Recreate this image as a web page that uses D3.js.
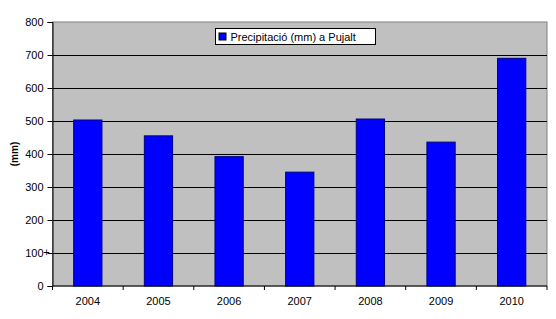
<!DOCTYPE html>
<html>
<head>
<meta charset="utf-8">
<script src="https://cdn.jsdelivr.net/npm/d3@7"></script>
<style>
  body { margin: 0; background: #fff; }
  text { font-family: Arial, "Liberation Sans", sans-serif; }
</style>
</head>
<body>
<svg id="chart" width="556" height="319"></svg>
<script>
// Data
const years = ["2004", "2005", "2006", "2007", "2008", "2009", "2010"];
const rainfall = [503, 455, 392, 345, 506, 436, 690];
const yTicks = [0, 100, 200, 300, 400, 500, 600, 700, 800];
const seriesName = "Precipitació (mm) a Pujalt";

const svg = d3.select("#chart");
const margin = { left: 52.5, right: 9, top: 22, bottom: 33 };
const width = +svg.attr("width");
const height = +svg.attr("height");

const x = d3.scaleBand()
    .domain(years)
    .range([margin.left, width - margin.right])
    .paddingInner(0.6)
    .paddingOuter(0.3);

const y = d3.scaleLinear()
    .domain([0, 800])
    .range([height - margin.bottom, margin.top]);

// Plot background
svg.append("rect")
    .attr("x", margin.left)
    .attr("y", margin.top)
    .attr("width", width - margin.right - margin.left)
    .attr("height", y(0) - margin.top)
    .attr("fill", "#c0c0c0")
    .attr("stroke", "#808080");

// Gridlines
svg.append("g")
    .selectAll("line")
    .data(yTicks.filter(d => d > 0 && d < 800))
    .join("line")
    .attr("x1", margin.left)
    .attr("x2", width - margin.right)
    .attr("y1", d => Math.round(y(d)) + 0.5)
    .attr("y2", d => Math.round(y(d)) + 0.5)
    .attr("stroke", "#000");

// Bars
svg.append("g")
    .selectAll("rect")
    .data(rainfall)
    .join("rect")
    .attr("x", (d, i) => x(years[i]))
    .attr("y", d => y(d))
    .attr("width", x.bandwidth())
    .attr("height", d => y(0) - y(d))
    .attr("fill", "#0000ff")
    .attr("stroke", "#000080");

// Y axis
const yAxis = svg.append("g")
    .attr("transform", `translate(${margin.left},0)`)
    .call(d3.axisLeft(y).tickValues(yTicks).tickSize(5).tickPadding(4));
yAxis.select(".domain").attr("stroke", "#000");
yAxis.selectAll("text").attr("font-size", 11).attr("fill", "#000")
    .attr("font-family", "Arial, 'Liberation Sans', sans-serif");

// X axis: ticks sit between categories
const step = x.step();
const boundaries = d3.range(years.length + 1).map(i => margin.left + i * (width - margin.right - margin.left) / years.length);
const xAxis = svg.append("g");
xAxis.append("line")
    .attr("x1", margin.left).attr("x2", width - margin.right)
    .attr("y1", y(0)).attr("y2", y(0))
    .attr("stroke", "#000");
xAxis.selectAll("line.tick")
    .data(boundaries)
    .join("line")
    .attr("class", "tick")
    .attr("x1", d => d).attr("x2", d => d)
    .attr("y1", y(0)).attr("y2", y(0) + 4)
    .attr("stroke", "#000");
xAxis.selectAll("text")
    .data(years)
    .join("text")
    .attr("x", d => x(d) + x.bandwidth() / 2)
    .attr("y", y(0) + 19)
    .attr("text-anchor", "middle")
    .attr("font-size", 11)
    .text(d => d);

// Y axis title
svg.append("text")
    .attr("transform", `translate(18,${(margin.top + y(0)) / 2}) rotate(-90)`)
    .attr("text-anchor", "middle")
    .attr("font-size", 10)
    .attr("font-weight", "bold")
    .text("(mm)");

// Legend
const legend = svg.append("g").attr("transform", "translate(215.5,28.5)");
legend.append("rect")
    .attr("width", 160).attr("height", 16)
    .attr("fill", "#fff").attr("stroke", "#000");
legend.append("rect")
    .attr("x", 3.5).attr("y", 4.5).attr("width", 7).attr("height", 7)
    .attr("fill", "#0000ff").attr("stroke", "#000");
legend.append("text")
    .attr("x", 15).attr("y", 12.5)
    .attr("font-size", 11)
    .text(seriesName);

// Small cursor mark near the 100 tick
svg.append("text")
    .attr("x", 46.5).attr("y", 256)
    .attr("text-anchor", "middle")
    .attr("font-size", 11)
    .text("+");
</script>
</body>
</html>
